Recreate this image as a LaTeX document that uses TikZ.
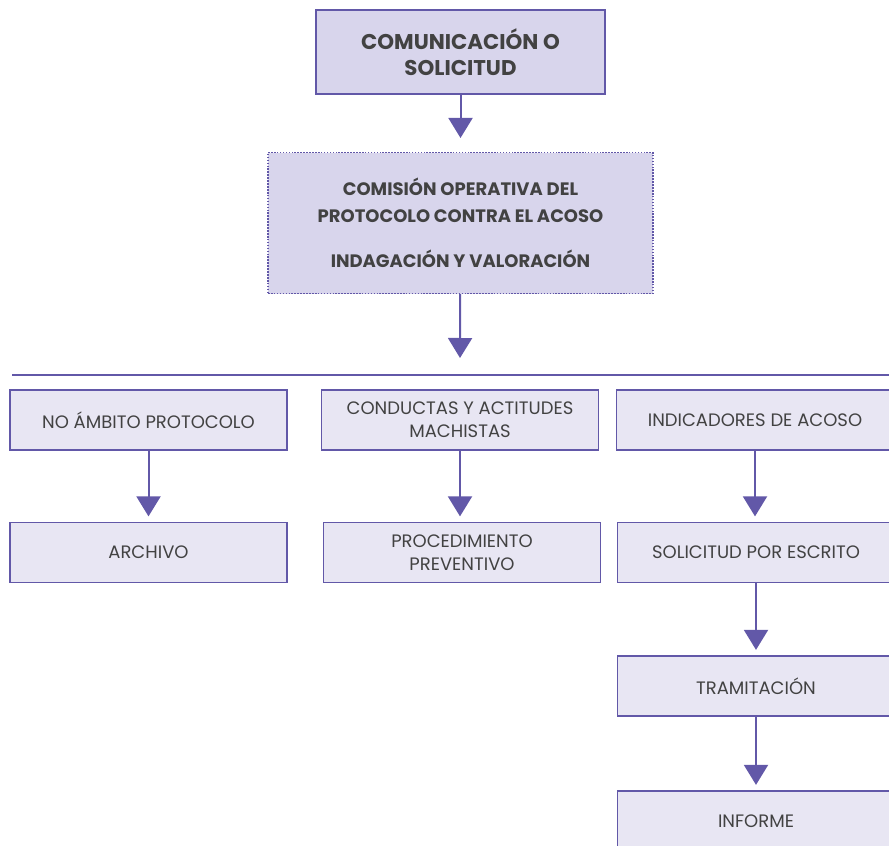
\documentclass[tikz,border=0pt]{standalone}
\usepackage{fontspec}
\setmainfont{Poppins}
\usepackage{tikz}
\usetikzlibrary{positioning}
\usetikzlibrary{arrows.meta}
\definecolor{mypurple}{RGB}{98,88,168}
\definecolor{myfill}{RGB}{216,213,236}
\definecolor{mylight}{RGB}{232,230,243}
\definecolor{mytext}{RGB}{66,66,66}

\begin{document}
\begin{tikzpicture}[x=0.75pt,y=-0.75pt]
	\useasboundingbox (0,0) rectangle (889,846);
	\clip (0,0) rectangle (889,846);

	% cabecera
	\begin{scope}[every node/.style={fill=myfill,draw=mypurple,line width=1.2pt,
	              text=mytext,align=center,font=\fontsize{16}{20}\selectfont\bfseries}]
	    \node[minimum width=216.75pt,minimum height=63pt] (com) at (460.5,52) {COMUNICACIÓN O\\SOLICITUD};
	    \node[densely dotted,line width=0.8pt,minimum width=288.75pt,minimum height=105.75pt,
	          font=\fontsize{13.5}{20}\selectfont\bfseries] (comision) at (460.5,223)
	          {COMISIÓN OPERATIVA DEL\\PROTOCOLO CONTRA EL ACOSO\\[14pt]INDAGACIÓN Y VALORACIÓN};
	\end{scope}
	\coordinate (bar) at (460,358);
	\draw[mypurple,line width=1.2pt] (12,375) -- (889,375);

	% ramas
	\begin{scope}[every node/.style={fill=mylight,draw=mypurple,line width=1.2pt,
	              text=mytext,align=center,minimum width=207.75pt,minimum height=45pt,
	              font=\fontsize{13.5}{17}\selectfont}]
	    \node (noambito) at (148.5,420) {NO ÁMBITO PROTOCOLO};
	    \node (conductas) at (460,420) {CONDUCTAS Y ACTITUDES\\MACHISTAS};
	    \node (indicadores) at (755,420) {INDICADORES DE ACOSO};
	    \node (archivo) at (148.5,552.5) {ARCHIVO};
	    \node (procedimiento) at (462,552.5) {PROCEDIMIENTO\\PREVENTIVO};
	    \node (solicitud) at (756,552.5) {SOLICITUD POR ESCRITO};
	    \node (tramitacion) at (756,686) {TRAMITACIÓN};
	    \node (informe) at (756,821) {INFORME};
	\end{scope}

	\begin{scope}[>={Triangle[width=18pt,length=15pt]},
	              every edge/.style={draw=mypurple,line width=1.5pt,shorten >=4pt}]
	    \path [->] (com) edge[shorten >=10.5pt] (comision);
	    \path [->] (comision) edge[shorten >=0pt] (bar);
	    \path [->] (noambito) edge (archivo);
	    \path [->] (conductas) edge (conductas |- procedimiento.north);
	    \path [->] (indicadores) edge (indicadores |- solicitud.north);
	    \path [->] (solicitud) edge (tramitacion);
	    \path [->] (tramitacion) edge (informe);
	\end{scope}
\end{tikzpicture}
\end{document}
